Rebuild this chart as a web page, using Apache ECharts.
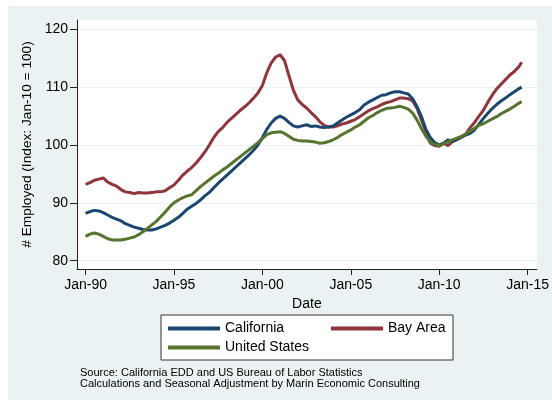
<!DOCTYPE html>
<html><head><meta charset="utf-8">
<script src="https://cdn.jsdelivr.net/npm/echarts@6/dist/echarts.min.js"></script>
<style>
html,body{margin:0;padding:0;background:#fff;width:552px;height:400px;overflow:hidden}
#c{position:absolute;left:8px;top:6px;width:544px;height:394px}
</style></head>
<body><div id="c"></div>
<script>
// Quarterly observations (month of observation), last point Sep-2014
const dates = [
"1990-01","1990-04","1990-07","1990-10","1991-01","1991-04","1991-07","1991-10",
"1992-01","1992-04","1992-07","1992-10","1993-01","1993-04","1993-07","1993-10",
"1994-01","1994-04","1994-07","1994-10","1995-01","1995-04","1995-07","1995-10",
"1996-01","1996-04","1996-07","1996-10","1997-01","1997-04","1997-07","1997-10",
"1998-01","1998-04","1998-07","1998-10","1999-01","1999-04","1999-07","1999-10",
"2000-01","2000-04","2000-07","2000-10","2001-01","2001-04","2001-07","2001-10",
"2002-01","2002-04","2002-07","2002-10","2003-01","2003-04","2003-07","2003-10",
"2004-01","2004-04","2004-07","2004-10","2005-01","2005-04","2005-07","2005-10",
"2006-01","2006-04","2006-07","2006-10","2007-01","2007-04","2007-07","2007-10",
"2008-01","2008-04","2008-07","2008-10","2009-01","2009-04","2009-07","2009-10",
"2010-01","2010-04","2010-07","2010-10","2011-01","2011-04","2011-07","2011-10",
"2012-01","2012-04","2012-07","2012-10","2013-01","2013-04","2013-07","2013-10",
"2014-01","2014-04","2014-07","2014-09"];

const california = [
88.2,88.5,88.7,88.6, 88.3,87.9,87.5,87.2, 86.9,86.4,86.1,85.8, 85.6,85.4,85.3,85.3,
85.5,85.8,86.1,86.5, 87.0,87.5,88.2,88.9, 89.4,89.9,90.5,91.2, 91.8,92.6,93.4,94.1,
94.8,95.5,96.2,96.9, 97.6,98.3,99.1,100.0, 101.3,102.7,103.8,104.6, 105.0,104.6,103.9,103.3,
103.1,103.3,103.5,103.2, 103.3,103.1,103.0,103.1, 103.3,103.8,104.3,104.8, 105.2,105.6,106.1,106.9,
107.4,107.8,108.2,108.6, 108.7,109.0,109.2,109.2, 109.0,108.8,108.0,106.6, 104.9,102.7,101.3,100.4,
100.0,100.3,100.9,100.6, 101.0,101.4,101.7,102.0, 102.6,103.6,104.6,105.5, 106.3,107.0,107.6,108.1,
108.7,109.2,109.7,110.0];

const bayArea = [
93.2,93.5,93.9,94.1, 94.3,93.6,93.2,92.9, 92.3,91.9,91.8,91.6, 91.8,91.7,91.7,91.8,
91.9,91.9,92.1,92.6, 93.1,93.9,94.8,95.5, 96.1,96.9,97.8,98.8, 100.0,101.3,102.3,103.0,
103.9,104.6,105.3,106.0, 106.6,107.3,108.1,109.0, 110.3,112.5,114.2,115.2, 115.6,114.6,112.0,109.5,
107.8,107.0,106.4,105.6, 104.9,104.0,103.4,103.1, 103.1,103.3,103.6,103.8, 104.1,104.4,104.9,105.4,
105.9,106.3,106.6,107.0, 107.3,107.5,107.8,108.1, 108.1,108.0,107.6,106.3, 104.3,102.3,100.3,99.9,
99.8,100.3,99.9,100.6, 100.9,101.3,101.9,103.0, 103.9,105.0,106.0,107.4, 108.6,109.7,110.5,111.3,
112.1,112.7,113.5,114.3];

const unitedStates = [
84.2,84.6,84.8,84.6, 84.2,83.8,83.6,83.6, 83.6,83.7,83.9,84.1, 84.5,85.0,85.6,86.2,
86.8,87.6,88.4,89.3, 90.0,90.5,90.9,91.2, 91.4,92.1,92.8,93.4, 94.0,94.6,95.1,95.7,
96.2,96.8,97.4,98.0, 98.6,99.2,99.8,100.4, 101.1,101.8,102.1,102.2, 102.3,102.0,101.5,101.0,
100.8,100.7,100.7,100.6, 100.5,100.3,100.4,100.6, 100.9,101.3,101.8,102.2, 102.6,103.1,103.5,104.1,
104.7,105.1,105.6,106.0, 106.3,106.4,106.5,106.7, 106.5,106.2,105.5,104.3, 102.8,101.5,100.5,100.1,
99.9,100.2,100.6,100.9, 101.2,101.5,101.9,102.4, 102.9,103.4,103.7,104.1, 104.5,104.9,105.4,105.8,
106.2,106.7,107.2,107.5];

const xTicks = [1990,1995,2000,2005,2010,2015];
const yTicks = [80,90,100,110,120];
const seriesNames = ["California","Bay Area","United States"];
const caption = "Source: California EDD and US Bureau of Labor Statistics\nCalculations and Seasonal Adjustment by Marin Economic Consulting";

function toYear(s){ const p = s.split("-"); return +p[0] + (+p[1]-1)/12; }
function pairs(vals){ return dates.map((d,i)=>[toYear(d), vals[i]]); }

const FONT = "Liberation Sans, Arial, Helvetica, sans-serif";
const chart = echarts.init(document.getElementById('c'));
chart.setOption({
  animation:false,
  backgroundColor:'#EAF2F3',
  textStyle:{fontFamily:FONT},
  title:{text:caption,left:67,top:356,textStyle:{fontFamily:FONT,fontSize:11,fontWeight:'normal',color:'#000',lineHeight:11}},
  grid:{left:69,top:14,right:8,bottom:131,show:true,backgroundColor:'#fff',borderWidth:0},
  legend:{
    left:153, top:309, width:290, padding:[4,7,3,7], itemGap:0,
    backgroundColor:'#fff', borderColor:'#333', borderWidth:1, borderRadius:0,
    icon:'rect', itemWidth:52, itemHeight:4,
    textStyle:{fontFamily:FONT,fontSize:14,color:'#000',lineHeight:19},
    data:[
      {name:seriesNames[0],textStyle:{width:106}},
      {name:seriesNames[1],textStyle:{width:58}},
      {name:seriesNames[2],textStyle:{width:90}}
    ]
  },
  xAxis:{
    type:'value', min:1989.515, max:2015.52,
    axisLine:{show:true,lineStyle:{color:'#222',width:1}},
    axisTick:{show:true,customValues:xTicks,length:6,lineStyle:{color:'#222'}},
    axisLabel:{customValues:xTicks,margin:9,fontSize:14,color:'#000',fontFamily:FONT,
      formatter:v=>'Jan-'+String(v).slice(2)},
    splitLine:{show:false},
    name:'Date', nameLocation:'middle', nameGap:23,
    nameTextStyle:{fontSize:14,color:'#000',fontFamily:FONT}
  },
  yAxis:{
    type:'value', min:78.57, max:121.6,
    axisLine:{show:true,lineStyle:{color:'#222',width:1}},
    axisTick:{show:true,customValues:yTicks,length:7,lineStyle:{color:'#222'}},
    axisLabel:{customValues:yTicks,margin:9,fontSize:14,color:'#000',fontFamily:FONT},
    splitLine:{show:true,lineStyle:{color:'#EAF2F3',width:1.2}},
    name:'# Employed (Index: Jan-10 = 100)', nameLocation:'middle', nameGap:39,
    nameTextStyle:{fontSize:13.7,color:'#000',fontFamily:FONT}
  },
  series:[
    {name:seriesNames[0],type:'line',showSymbol:false,data:pairs(california),
     color:'#1A476F',lineStyle:{width:3,color:'#1A476F'},z:3},
    {name:seriesNames[1],type:'line',showSymbol:false,data:pairs(bayArea),
     color:'#90353B',lineStyle:{width:3,color:'#90353B'},z:2},
    {name:seriesNames[2],type:'line',showSymbol:false,data:pairs(unitedStates),
     color:'#55752F',lineStyle:{width:3,color:'#55752F'},z:4}
  ]
});
</script></body></html>
